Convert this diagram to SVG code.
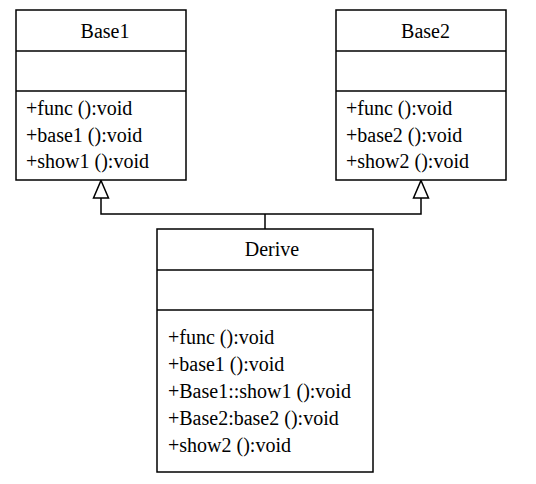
<svg xmlns="http://www.w3.org/2000/svg" width="536" height="484" viewBox="0 0 536 484">
<style>
.box{fill:#fff;stroke:#000;stroke-width:1.5}
.div{stroke:#000;stroke-width:1.5}
text{font-family:"Liberation Serif","Times New Roman",serif;font-size:20px;fill:#000}
.t{text-anchor:middle}
.conn{fill:none;stroke:#000;stroke-width:1.5}
.head{fill:#fff;stroke:#000;stroke-width:1.5}
</style>
<g id="connectors">
<path class="conn" d="M265,229 V214"/>
<path class="conn" d="M101,198 V214 H421 V198"/>
<path class="head" d="M101,180.5 L108.5,198 L93.5,198 Z"/>
<path class="head" d="M421,180.5 L428.5,198 L413.5,198 Z"/>
</g>
<g id="Base1">
<rect class="box" x="16" y="10" width="170" height="170"/>
<line class="div" x1="16" y1="51" x2="186" y2="51"/>
<line class="div" x1="16" y1="91" x2="186" y2="91"/>
<text class="t" x="105" y="38">Base1</text>
<text x="26" y="115">+func ():void</text>
<text x="26" y="141.5">+base1 ():void</text>
<text x="26" y="168">+show1 ():void</text>
</g>
<g id="Base2">
<rect class="box" x="336" y="10" width="170" height="170"/>
<line class="div" x1="336" y1="51" x2="506" y2="51"/>
<line class="div" x1="336" y1="91" x2="506" y2="91"/>
<text class="t" x="425.5" y="38">Base2</text>
<text x="346" y="115">+func ():void</text>
<text x="346" y="141.5">+base2 ():void</text>
<text x="346" y="168">+show2 ():void</text>
</g>
<g id="Derive">
<rect class="box" x="157" y="229" width="216" height="243"/>
<line class="div" x1="157" y1="270" x2="373" y2="270"/>
<line class="div" x1="157" y1="310" x2="373" y2="310"/>
<text class="t" x="272" y="256">Derive</text>
<text x="168" y="344">+func ():void</text>
<text x="168" y="371">+base1 ():void</text>
<text x="168" y="398">+Base1::show1 ():void</text>
<text x="168" y="425">+Base2:base2 ():void</text>
<text x="168" y="452">+show2 ():void</text>
</g>
</svg>
